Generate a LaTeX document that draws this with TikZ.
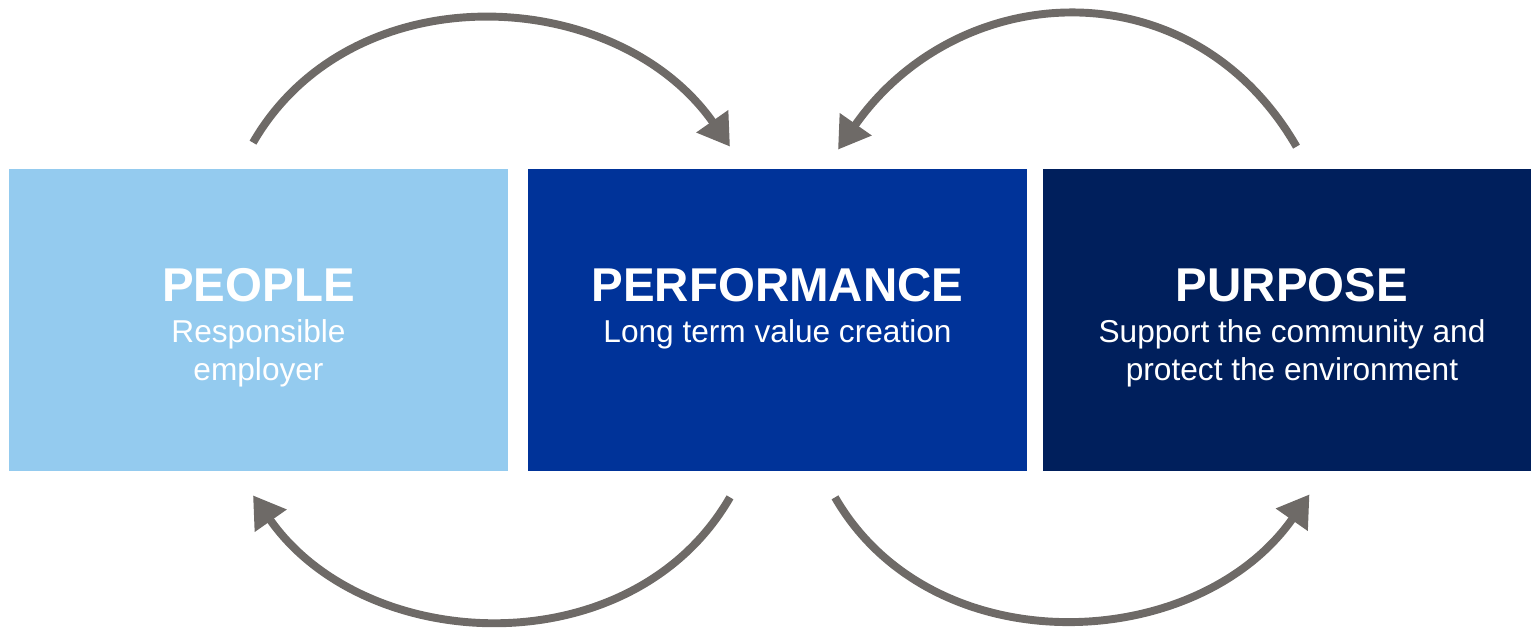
\documentclass[tikz,border=0pt]{standalone}
\usepackage{fontspec}
\setmainfont{Liberation Sans}
\usetikzlibrary{calc,positioning,arrows.meta}

\definecolor{peoplecol}{HTML}{94CBEF}
\definecolor{perfcol}{HTML}{003399}
\definecolor{purposecol}{HTML}{001F5C}
\definecolor{loopcol}{HTML}{6E6A67}

\tikzset{
  box/.style={minimum width=9.98cm, minimum height=6.04cm, inner sep=0pt},
  boxtitle/.style={white, font=\fontsize{27}{30}\selectfont\bfseries, anchor=base, inner sep=0pt},
  boxtext/.style={white, font=\fontsize{18}{22}\selectfont, align=center, anchor=north, inner sep=0pt},
  loop/.style={draw=loopcol, line width=4.5pt, looseness=1.1,
    -{Triangle[length=0.62cm, width=0.74cm]}}
}

\begin{document}
\begin{tikzpicture}
  \useasboundingbox (0,0) rectangle (30.64,12.58);

  % the three boxes
  \node[box, fill=peoplecol] (people) at (5.17,6.18) {};
  \node[box, fill=perfcol] (perf) at (15.55,6.18) {};
  \node[box, fill=purposecol, minimum width=9.76cm] (purpose) at (25.74,6.18) {};

  \node[boxtitle] (people-t) at ($(people.center)+(0,0.36)$) {PEOPLE};
  \node[boxtext] (people-s) at ($(people.center)+(0,0.02)$) {Responsible\\employer};
  \node[boxtitle] (perf-t) at ($(perf.center)+(0,0.36)$) {PERFORMANCE};
  \node[boxtext] (perf-s) at ($(perf.center)+(0,0.02)$) {Long term value creation};
  \node[boxtitle] (purpose-t) at ($(purpose.center)+(0.1,0.36)$) {PURPOSE};
  \node[boxtext] (purpose-s) at ($(purpose.center)+(0.1,0.02)$) {Support the community and\\protect the environment};

  % ends of the loops, just off the boxes
  \coordinate (people-n) at ($(people.north)+(-0.11,0.52)$);
  \coordinate (perf-nw) at ($(perf.north)+(-0.95,0.44)$);
  \coordinate (perf-ne) at ($(perf.north)+(1.21,0.38)$);
  \coordinate (purpose-n) at ($(purpose.north)+(0.19,0.44)$);
  \coordinate (people-s) at ($(people.south)+(-0.11,-0.48)$);
  \coordinate (perf-sw) at ($(perf.south)+(-0.95,-0.52)$);
  \coordinate (perf-se) at ($(perf.south)+(1.15,-0.52)$);
  \coordinate (purpose-s) at ($(purpose.south)+(0.45,-0.46)$);

  % loops
  \draw[loop, looseness=1.06] (people-n) to[out=60, in=125] (perf-nw);
  \draw[loop, looseness=1.17] (purpose-n) to[out=120, in=55] (perf-ne);
  \draw[loop, looseness=1.05] (perf-sw) to[out=-120, in=-55] (people-s);
  \draw[loop, looseness=1.05] (perf-se) to[out=-60, in=-125] (purpose-s);
\end{tikzpicture}
\end{document}
